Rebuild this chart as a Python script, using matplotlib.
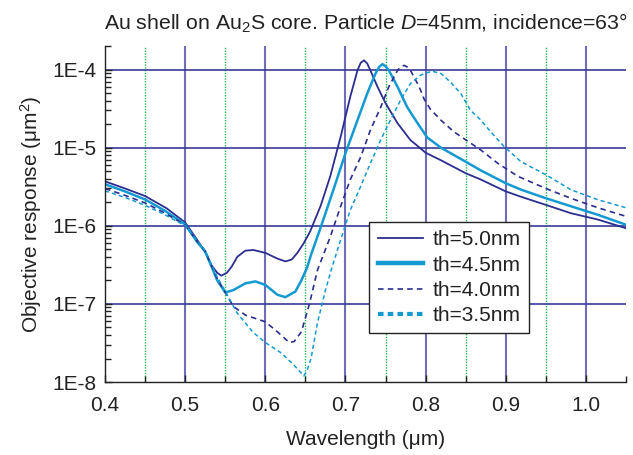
import numpy as np
import matplotlib
matplotlib.use("Agg")
import matplotlib.pyplot as plt
from matplotlib.ticker import FixedLocator, LogLocator, NullFormatter

plt.rcParams['font.family'] = ['Liberation Sans', 'DejaVu Sans']
plt.rcParams['mathtext.fontset'] = 'custom'
plt.rcParams['mathtext.rm'] = 'Liberation Sans'
plt.rcParams['mathtext.it'] = 'Liberation Sans:italic'
plt.rcParams['lines.scale_dashes'] = False

# th = 5.0 nm
wl_50 = [0.400, 0.425, 0.450, 0.477, 0.500, 0.515, 0.525, 0.532, 0.540, 0.545, 0.552, 0.558,
         0.565, 0.575, 0.585, 0.600, 0.615, 0.625, 0.633, 0.640, 0.648, 0.656, 0.669, 0.681,
         0.694, 0.706, 0.715, 0.719, 0.723, 0.727, 0.731, 0.740, 0.750, 0.765, 0.781, 0.790,
         0.800, 0.819, 0.850, 0.869, 0.900, 0.919, 0.950, 0.981, 1.015, 1.050]
resp_50 = [3.7e-6, 3.0e-6, 2.4e-6, 1.67e-6, 1.1e-6, 6.6e-7, 4.6e-7, 3.2e-7, 2.5e-7, 2.3e-7, 2.5e-7, 3.0e-7,
           4.0e-7, 4.8e-7, 4.9e-7, 4.5e-7, 3.8e-7, 3.5e-7, 3.7e-7, 4.5e-7, 6.0e-7, 8.5e-7, 1.8e-6, 4.3e-6,
           1.38e-5, 4.5e-5, 9.8e-5, 1.22e-4, 1.31e-4, 1.2e-4, 9.8e-5, 6.0e-5, 3.7e-5, 2.05e-5, 1.25e-5, 1.05e-5,
           8.6e-6, 6.9e-6, 4.7e-6, 3.9e-6, 2.75e-6, 2.35e-6, 1.85e-6, 1.45e-6, 1.2e-6, 9.3e-7]

# th = 4.5 nm
wl_45 = [0.400, 0.425, 0.450, 0.475, 0.500, 0.515, 0.525, 0.540, 0.550, 0.560, 0.575, 0.5875,
         0.600, 0.615, 0.625, 0.6375, 0.645, 0.652, 0.6575, 0.669, 0.685, 0.700, 0.715, 0.727,
         0.7375, 0.742, 0.746, 0.750, 0.754, 0.765, 0.777, 0.790, 0.802, 0.819, 0.850, 0.869,
         0.900, 0.919, 0.950, 0.981, 1.015, 1.050]
resp_45 = [3.4e-6, 2.75e-6, 2.17e-6, 1.55e-6, 1.04e-6, 6.2e-7, 4.7e-7, 2.0e-7, 1.4e-7, 1.5e-7, 1.83e-7, 1.94e-7,
           1.75e-7, 1.31e-7, 1.22e-7, 1.44e-7, 2.0e-7, 2.9e-7, 4.4e-7, 9.5e-7, 2.9e-6, 8.5e-6, 2.25e-5, 4.9e-5,
           8.9e-5, 1.08e-4, 1.17e-4, 1.1e-4, 9.8e-5, 6.0e-5, 3.3e-5, 2.05e-5, 1.35e-5, 1.0e-5, 6.6e-6, 5.1e-6,
           3.5e-6, 2.9e-6, 2.25e-6, 1.78e-6, 1.38e-6, 1.03e-6]

# th = 4.0 nm
wl_40 = [0.400, 0.425, 0.450, 0.475, 0.500, 0.515, 0.525, 0.540, 0.550, 0.560, 0.575, 0.600,
         0.615, 0.630, 0.636, 0.645, 0.655, 0.665, 0.681, 0.694, 0.706, 0.719, 0.731, 0.744,
         0.754, 0.765, 0.769, 0.773, 0.777, 0.781, 0.792, 0.798, 0.806, 0.819, 0.835, 0.850,
         0.869, 0.890, 0.915, 0.950, 0.981, 1.015, 1.050]
resp_40 = [3.0e-6, 2.45e-6, 1.96e-6, 1.45e-6, 1.02e-6, 6.3e-7, 4.7e-7, 2.1e-7, 1.4e-7, 9.3e-8, 7.2e-8, 5.9e-8,
           4.4e-8, 3.2e-8, 3.3e-8, 4.4e-8, 1.0e-7, 2.7e-7, 7.2e-7, 1.78e-6, 3.9e-6, 7.6e-6, 1.67e-5, 3.3e-5,
           6.0e-5, 9.8e-5, 1.08e-4, 1.13e-4, 1.08e-4, 9.8e-5, 6.0e-5, 4.2e-5, 3.1e-5, 2.25e-5, 1.6e-5, 1.26e-5,
           9.3e-6, 6.3e-6, 4.3e-6, 3.0e-6, 2.25e-6, 1.7e-6, 1.32e-6]

# th = 3.5 nm
wl_35 = [0.400, 0.425, 0.450, 0.475, 0.500, 0.515, 0.525, 0.540, 0.550, 0.565, 0.585, 0.600,
         0.620, 0.635, 0.645, 0.648, 0.652, 0.657, 0.665, 0.675, 0.683, 0.694, 0.706, 0.719,
         0.731, 0.744, 0.756, 0.769, 0.781, 0.794, 0.800, 0.808, 0.819, 0.831, 0.844, 0.856,
         0.869, 0.881, 0.898, 0.919, 0.950, 0.981, 1.015, 1.050]
resp_35 = [2.8e-6, 2.3e-6, 1.83e-6, 1.38e-6, 1.0e-6, 6.4e-7, 4.8e-7, 2.2e-7, 1.45e-7, 7.6e-8, 4.3e-8, 3.2e-8,
           2.35e-8, 1.67e-8, 1.3e-8, 1.2e-8, 1.4e-8, 2.0e-8, 5.7e-8, 1.5e-7, 2.9e-7, 6.6e-7, 1.59e-6, 3.2e-6,
           6.3e-6, 1.26e-5, 2.25e-5, 4.1e-5, 6.6e-5, 8.5e-5, 9.0e-5, 9.5e-5, 8.9e-5, 6.9e-5, 4.9e-5, 3.0e-5,
           2.25e-5, 1.6e-5, 1.03e-5, 6.6e-6, 4.5e-6, 2.9e-6, 2.15e-6, 1.7e-6]

labels = ['th=5.0nm', 'th=4.5nm', 'th=4.0nm', 'th=3.5nm']
x_ticks = [0.4, 0.5, 0.6, 0.7, 0.8, 0.9, 1.0]
x_ticklabels = ['0.4', '0.5', '0.6', '0.7', '0.8', '0.9', '1.0']
y_ticks = [1e-8, 1e-7, 1e-6, 1e-5, 1e-4]
y_ticklabels = ['1E-8', '1E-7', '1E-6', '1E-5', '1E-4']

navy = '#2b2e8e'
cyan = '#1499d1'
txt = '#222222'

fig = plt.figure(figsize=(6.33, 4.55), dpi=100)
ax = fig.add_axes([0.1659, 0.1604, 0.8231, 0.7385])
ax.set_yscale('log')
ax.set_xlim(0.4, 1.05)
ax.set_ylim(1e-8, 2e-4)

# grid
for xv in np.arange(0.45, 1.0, 0.1):
    ax.axvline(xv, color='#1fb84f', lw=1.0, ls=(0, (1, 1)), zorder=1)
for xv in x_ticks[1:]:
    ax.axvline(xv, color='#6d6db9', lw=1.5, zorder=1)
for yv in y_ticks[1:]:
    ax.axhline(yv, color='#3a3b97', lw=1.2, zorder=1)

l1, = ax.plot(wl_50, resp_50, color=navy, lw=1.3, zorder=3, label=labels[0])
l2, = ax.plot(wl_45, resp_45, color=cyan, lw=1.8, zorder=3, label=labels[1])
l3, = ax.plot(wl_40, resp_40, color=navy, lw=1.2, ls=(0, (4, 3)), zorder=3, label=labels[2])
l4, = ax.plot(wl_35, resp_35, color=cyan, lw=1.1, ls=(0, (3, 2.2)), zorder=3, label=labels[3])

ax.xaxis.set_major_locator(FixedLocator(x_ticks))
ax.set_xticklabels(x_ticklabels)
ax.xaxis.set_minor_locator(FixedLocator([0.45, 0.55, 0.65, 0.75, 0.85, 0.95, 1.05]))
ax.yaxis.set_major_locator(FixedLocator(y_ticks))
ax.set_yticklabels(y_ticklabels)
ax.yaxis.set_minor_locator(LogLocator(base=10, subs=np.arange(2, 10)))
ax.yaxis.set_minor_formatter(NullFormatter())
ax.tick_params(axis='both', which='major', direction='in', length=5, width=1, labelsize=15,
               color=txt, labelcolor=txt)
ax.tick_params(axis='both', which='minor', direction='in', length=4, width=1, color=txt)
ax.tick_params(axis='x', pad=10)
ax.tick_params(axis='y', pad=6)

for s in ['top', 'right']:
    ax.spines[s].set_visible(False)
for s in ['left', 'bottom']:
    ax.spines[s].set_color(txt)
    ax.spines[s].set_linewidth(1.0)
    ax.spines[s].set_zorder(4)

ax.set_xlabel('Wavelength (μm)', fontsize=15, labelpad=11, color=txt)
ax.set_ylabel('Objective response (μm$^2$)', fontsize=15, labelpad=6, color=txt)
ax.set_title('Au shell on Au$_2$S core. Particle $D$=45nm, incidence=63°', fontsize=15.3, pad=12, color=txt)

leg = ax.legend(handles=[l1, l2, l3, l4], loc='upper left', bbox_to_anchor=(0.507, 0.476),
                borderaxespad=0, fontsize=15, frameon=True, fancybox=False, framealpha=1,
                edgecolor=txt, handlelength=2.2, handletextpad=0.45, labelspacing=0.3,
                borderpad=0.4)
leg.get_frame().set_linewidth(1.0)
leg.set_zorder(5)
for h, w in zip(leg.get_lines(), [1.3, 3.2, 1.2, 3.0]):
    h.set_linewidth(w)
leg.get_lines()[2].set_linestyle((0, (4, 3)))
leg.get_lines()[3].set_linestyle((0, (4, 3)))
for t in leg.get_texts():
    t.set_color(txt)

fig.savefig('out.png', dpi=100)
